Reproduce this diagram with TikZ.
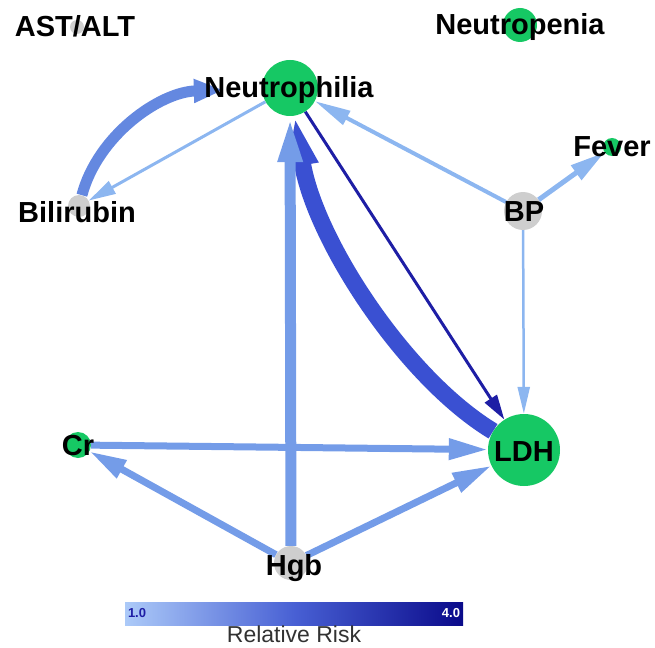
\documentclass[tikz,border=0pt]{standalone}
\usepackage{fontspec}
\setmainfont{Liberation Sans}
\usetikzlibrary{arrows.meta}
\definecolor{ngreen}{RGB}{22,200,100}
\definecolor{ngrey}{RGB}{206,206,206}
\definecolor{eLight}{RGB}{140,182,240}
\definecolor{eMid}{RGB}{116,156,232}
\definecolor{eArc}{RGB}{100,136,224}
\definecolor{eRoyal}{RGB}{58,80,210}
\definecolor{eNavy}{RGB}{30,30,165}
\definecolor{cbLow}{RGB}{172,202,248}
\definecolor{cbMid}{RGB}{72,96,212}
\definecolor{cbHigh}{RGB}{10,10,138}
\definecolor{txtgrey}{RGB}{50,50,50}
\pgfdeclarelayer{bg}
\pgfsetlayers{bg,main}
\begin{document}
\begin{tikzpicture}[x=1pt,y=-1pt,
  vert/.style={circle,inner sep=0pt,minimum size=#1},
  gnode/.style={vert=#1,fill=ngreen},
  rnode/.style={vert=#1,fill=ngrey},
  lab/.style={anchor=base,inner sep=0pt,font=\fontsize{29}{29}\selectfont\bfseries},
  edge/.style={line cap=butt},
  tip/.style 2 args={-{Triangle[length=#1,width=#2]}}
]
\useasboundingbox (0,0) rectangle (655,647);

% vertices
\node[rnode=14pt] (ast) at (77,27) {};
\node[gnode=34pt] (neup) at (520,25) {};
\node[gnode=56pt] (neu) at (290,88) {};
\node[gnode=18pt] (fev) at (612,147) {};
\node[rnode=38pt] (bp) at (523,211) {};
\node[rnode=22pt] (bil) at (79,206) {};
\node[gnode=26pt] (cr) at (78,445) {};
\node[gnode=72pt] (ldh) at (524,450) {};
\node[rnode=34pt] (hgb) at (291,563) {};

% edges
\begin{pgfonlayer}{bg}
\draw[edge,eArc,line width=11pt,tip={30pt}{22pt},shorten >=38pt]
  (bil) .. controls (98,135) and (160,92) .. (neu);
\draw[edge,eLight,line width=3pt,tip={27pt}{14pt}] (neu) -- (bil);
\draw[edge,eLight,line width=4pt,tip={36pt}{15pt}] (bp) -- (neu);
\draw[edge,eLight,line width=5pt,tip={35pt}{17pt}] (bp) -- (fev);
\draw[edge,eLight,line width=2.5pt,tip={27pt}{12pt}] (bp) -- (ldh);
\draw[edge,eRoyal,line width=17pt,tip={50pt}{28pt}]
  (ldh) .. controls (405,378) and (315,240) .. (neu);
\draw[edge,eNavy,line width=3pt,tip={25pt}{14pt}] (neu) -- (ldh);
\draw[edge,eMid,line width=11pt,tip={46pt}{22pt}] (hgb) -- (neu);
\draw[edge,eMid,line width=7pt,tip={39pt}{20pt}] (cr) -- (ldh);
\draw[edge,eMid,line width=7pt,tip={37pt}{19pt}] (hgb) -- (cr);
\draw[edge,eMid,line width=7pt,tip={39pt}{20pt}] (hgb) -- (ldh);
\end{pgfonlayer}

% labels
\node[lab] (lAst) at (75,37) {AST/ALT};
\node[lab] (lNeup) at (520,35) {Neutropenia};
\node[lab] (lNeu) at (289,98) {Neutrophilia};
\node[lab] (lFev) at (612,157) {Fever};
\node[lab] (lBp) at (524,221) {BP};
\node[lab] (lBil) at (77,222) {Bilirubin};
\node[lab] (lCr) at (78,455) {Cr};
\node[lab] (lLdh) at (524,461) {LDH};
\node[lab] (lHgb) at (294,575) {Hgb};

% colour bar
\node[inner sep=0pt,minimum width=338pt,minimum height=23pt,
  left color=cbLow,right color=cbHigh,middle color=cbMid] (cbar) at (294,613.5) {};
\node[anchor=west,inner sep=0pt,xshift=3pt,text=eNavy,
  font=\fontsize{13}{13}\selectfont\bfseries] (cbLo) at (cbar.west) {1.0};
\node[anchor=east,inner sep=0pt,xshift=-3pt,text=white,
  font=\fontsize{13}{13}\selectfont\bfseries] (cbHi) at (cbar.east) {4.0};
\node[anchor=base,inner sep=0pt,text=txtgrey,
  font=\fontsize{23}{23}\selectfont] (rr) at (294,642.5) {Relative Risk};
\end{tikzpicture}
\end{document}
